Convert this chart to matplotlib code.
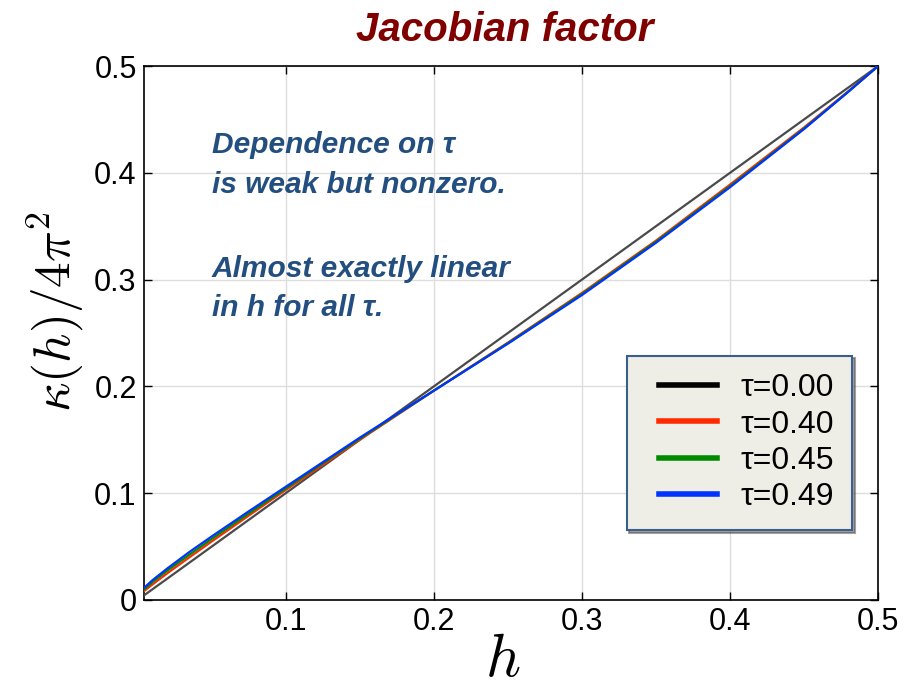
import matplotlib
matplotlib.use("Agg")
import matplotlib.pyplot as plt
from matplotlib.legend_handler import HandlerLine2D

h = [0.004, 0.01, 0.02, 0.035, 0.05, 0.075, 0.1, 0.125, 0.15, 0.175, 0.2,
     0.25, 0.3, 0.35, 0.4, 0.45, 0.48, 0.5]
k_000 = list(h)
k_040 = [0.008, 0.0145, 0.025, 0.040, 0.0548, 0.079, 0.103, 0.1265, 0.150, 0.173, 0.196,
         0.241, 0.2875, 0.3365, 0.389, 0.4425, 0.4765, 0.5]
k_045 = [0.0095, 0.0168, 0.0275, 0.0425, 0.0572, 0.081, 0.1045, 0.128, 0.151, 0.1735, 0.196,
         0.2405, 0.2865, 0.3355, 0.3875, 0.4415, 0.4762, 0.5]
k_049 = [0.011, 0.0185, 0.0295, 0.045, 0.0595, 0.083, 0.106, 0.129, 0.152, 0.174, 0.196,
         0.240, 0.2855, 0.3345, 0.3865, 0.441, 0.476, 0.5]
labels = ["τ=0.00", "τ=0.40", "τ=0.45", "τ=0.49"]
colors = ["#000000", "#ff2a00", "#008a00", "#0033ff"]
xticks = [0.1, 0.2, 0.3, 0.4, 0.5]
xticklabels = ["0.1", "0.2", "0.3", "0.4", "0.5"]
yticks = [0, 0.1, 0.2, 0.3, 0.4, 0.5]
yticklabels = ["0", "0.1", "0.2", "0.3", "0.4", "0.5"]

plt.rcParams['font.family'] = ['Liberation Sans', 'DejaVu Sans']
plt.rcParams['mathtext.fontset'] = 'cm'

fig = plt.figure(figsize=(9.09, 6.88), dpi=100)
ax = fig.add_axes([0.158, 0.128, 0.808, 0.776])

ax.plot(h, k_000, color="#4a4a4a", lw=1.6, zorder=3)
ax.plot(h, k_040, color=colors[1], lw=1.6, zorder=4)
ax.plot(h, k_045, color=colors[2], lw=1.6, zorder=5)
ax.plot(h, k_049, color=colors[3], lw=1.6, zorder=6)

handles = [plt.Line2D([], [], color=c, lw=4) for c in colors]
hmap = {hd: HandlerLine2D(xpad=0.47) for hd in handles}
leg = ax.legend(handles, labels, loc="lower right", bbox_to_anchor=(0.9645, 0.131),
                fontsize=23, frameon=True, fancybox=False, shadow=True,
                handlelength=2.28, handletextpad=0.75, borderpad=0.55,
                labelspacing=0.2, borderaxespad=0, handler_map=hmap)
fr = leg.get_frame()
fr.set_facecolor("#efeee6")
fr.set_edgecolor("#3a5f8f")
fr.set_linewidth(1.5)
fr.set_alpha(1)

ax.set_xlim(0.004, 0.5)
ax.set_ylim(0, 0.5)
ax.set_xticks(xticks)
ax.set_xticklabels(xticklabels)
ax.set_yticks(yticks)
ax.set_yticklabels(yticklabels)
ax.tick_params(direction="in", top=True, right=True, labelsize=22, length=6, width=1, pad=5)
ax.grid(True, color="#dddddd", lw=1)
ax.set_axisbelow(True)
for s in ax.spines.values():
    s.set_linewidth(1.2)

ax.set_xlabel(r"$h$", fontsize=44)
ax.xaxis.set_label_coords(0.489, -0.060)
ax.set_ylabel(r"$\kappa(h)/4\pi^2$", fontsize=37)
ax.yaxis.set_label_coords(-0.080, 0.54)
fig.text(0.5556, 0.956, "Jacobian factor", ha="center", va="center",
         fontsize=29, fontweight="bold", fontstyle="italic", color="#800000")

tc = "#234f80"
lines = [("Dependence on τ", 0.4185), ("is weak but nonzero.", 0.381),
         ("Almost exactly linear", 0.302), ("in h for all τ.", 0.266)]
for txt, yy in lines:
    ax.text(0.050, yy, txt, fontsize=21.5, fontweight="bold", fontstyle="italic",
            color=tc, va="baseline", ha="left")

fig.savefig("out.png", dpi=100)
